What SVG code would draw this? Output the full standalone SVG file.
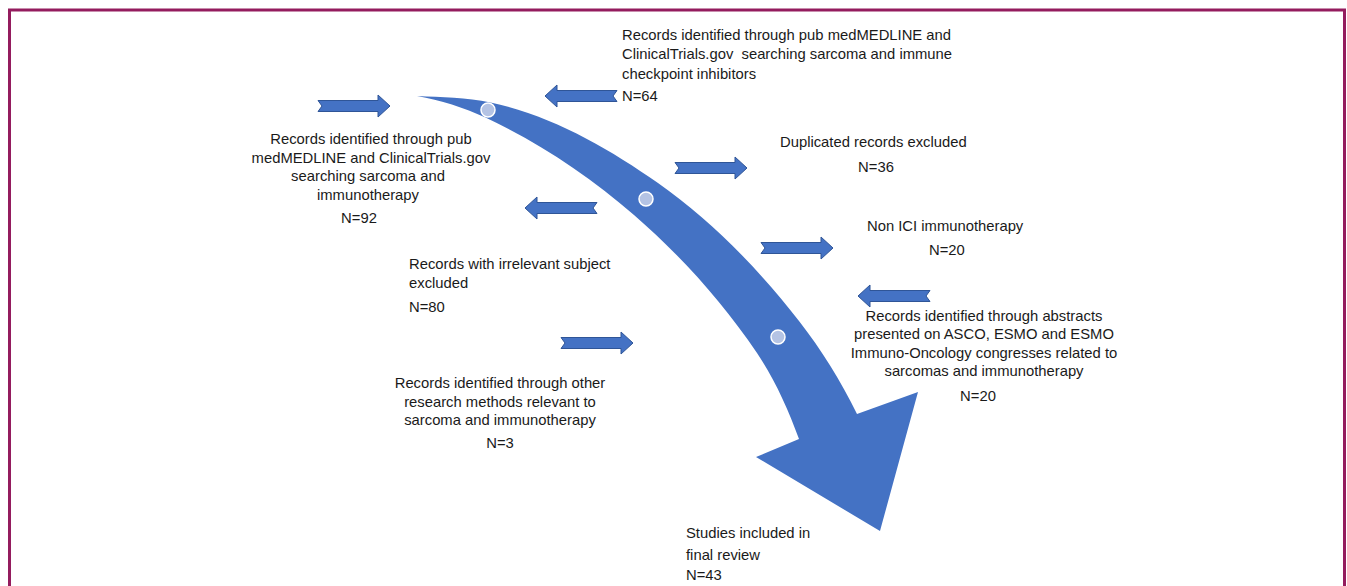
<svg xmlns="http://www.w3.org/2000/svg" width="1347" height="586" viewBox="0 0 1347 586">
<defs>
<style>
text{font-family:"Liberation Sans",Arial,sans-serif;font-size:14.8px;fill:#1a1a1a}
.c{text-anchor:middle}
.sa{fill:#4472C4;stroke:#2F5597;stroke-width:1}
.dot{fill:#B4C3E4;stroke:#ffffff;stroke-width:1.5}
</style>
<path id="ra" d="M0,-5.5 H60 V-11 L72,0 L60,11 V5.5 H0 L4,0 Z"/>
</defs>
<rect x="9.5" y="10" width="1335" height="620" fill="#ffffff" stroke="#941C5E" stroke-width="3"/>
<g id="connectors">
<path id="big-arrow" fill="#4472C4" d="M417,96 C441.6,97.3 466.4,97.3 490.5,102.4 C551.1,115.3 607.2,147.4 658,183 C711.9,220.8 758.5,269.1 799,321 C821.5,349.8 841,381.2 857,414 L918,392 L880,531 L756,457 L799,439 C788.1,409 774.8,379.4 757,353 C722.6,301.9 680.5,255.4 634,215 C589.3,176.2 539.1,142.6 485.5,117.6 C463.8,107.5 440.5,100.2 417,96 Z"/>
<circle class="dot" cx="488" cy="110" r="7"/>
<circle class="dot" cx="646" cy="199" r="7"/>
<circle class="dot" cx="778" cy="337" r="7"/>
<use href="#ra" class="sa" transform="translate(318,106)"/>
<use href="#ra" class="sa" transform="translate(617,96) scale(-1,1)"/>
<use href="#ra" class="sa" transform="translate(675,168)"/>
<use href="#ra" class="sa" transform="translate(597,208) scale(-1,1)"/>
<use href="#ra" class="sa" transform="translate(761,248)"/>
<use href="#ra" class="sa" transform="translate(930,296) scale(-1,1)"/>
<use href="#ra" class="sa" transform="translate(561,343)"/>
</g>
<g id="n-checkpoint">
<text x="622" y="39.5">Records identified through pub medMEDLINE and</text>
<text x="622" y="59" xml:space="preserve">ClinicalTrials.gov  searching sarcoma and immune</text>
<text x="622" y="78.5">checkpoint inhibitors</text>
<text x="622" y="101">N=64</text>
</g>
<g id="n-immuno">
<text class="c" x="371" y="144">Records identified through pub</text>
<text class="c" x="371" y="163">medMEDLINE and ClinicalTrials.gov</text>
<text class="c" x="368" y="181">searching sarcoma and</text>
<text class="c" x="368" y="200">immunotherapy</text>
<text class="c" x="359" y="223">N=92</text>
</g>
<g id="n-duplicated">
<text x="780" y="147">Duplicated records excluded</text>
<text class="c" x="876" y="172">N=36</text>
</g>
<g id="n-nonici">
<text x="867" y="231">Non ICI immunotherapy</text>
<text x="929" y="255">N=20</text>
</g>
<g id="n-irrelevant">
<text x="409" y="269">Records with irrelevant subject</text>
<text x="409" y="288">excluded</text>
<text x="409" y="312">N=80</text>
</g>
<g id="n-abstracts">
<text class="c" x="984" y="321">Records identified through abstracts</text>
<text class="c" x="984" y="339">presented on ASCO, ESMO and ESMO</text>
<text class="c" x="984" y="358">Immuno-Oncology congresses related to</text>
<text class="c" x="984" y="376">sarcomas and immunotherapy</text>
<text class="c" x="978" y="401">N=20</text>
</g>
<g id="n-other">
<text class="c" x="500" y="388">Records identified through other</text>
<text class="c" x="500" y="407">research methods relevant to</text>
<text class="c" x="500" y="425">sarcoma and immunotherapy</text>
<text class="c" x="500" y="448">N=3</text>
</g>
<g id="n-final">
<text x="686" y="538">Studies included in</text>
<text x="686" y="560">final review</text>
<text x="686" y="580">N=43</text>
</g>
</svg>
